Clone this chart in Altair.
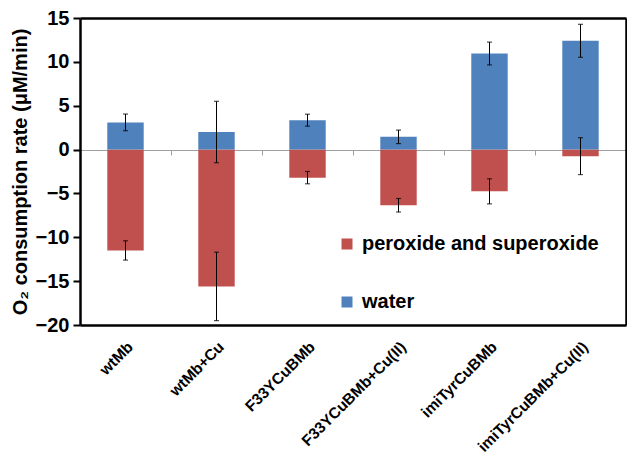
import altair as alt
import pandas as pd

categories = ["wtMb", "wtMb+Cu", "F33YCuBMb", "F33YCuBMb+Cu(II)", "imiTyrCuBMb", "imiTyrCuBMb+Cu(II)"]
water = [3.1, 2.0, 3.35, 1.45, 10.95, 12.4]
water_err = [0.95, 3.5, 0.68, 0.77, 1.3, 1.88]
perox = [-11.5, -15.6, -3.2, -6.35, -4.76, -0.75]
perox_err = [1.1, 3.9, 0.7, 0.77, 1.43, 2.1]
series = ["peroxide and superoxide", "water"]
colors = ["#C0504D", "#4F81BD"]

rows = []
for i, c in enumerate(categories):
    rows.append({"cat": c, "series": series[0], "value": perox[i], "err": perox_err[i]})
    rows.append({"cat": c, "series": series[1], "value": water[i], "err": water_err[i]})
df = pd.DataFrame(rows)
df["lo"] = df["value"] - df["err"]
df["hi"] = df["value"] + df["err"]

FONT = "Liberation Sans"
W, H = 546, 307
FW = 2.5
xscale = alt.Scale(domain=categories, paddingInner=0, paddingOuter=0)
yscale = alt.Scale(domain=[-20, 15], nice=False)

base = alt.Chart(df)

zero_axis = base.mark_rule(opacity=0).encode(
    x=alt.X("cat:N", scale=xscale, sort=categories,
            axis=alt.Axis(title=None, orient="bottom", labels=False, offset=-175,
                          domainColor="#A0A0A0", tickColor="#A0A0A0", tickSize=5,
                          bandPosition=0, domainWidth=1)),
    y=alt.Y("value:Q", scale=yscale, axis=None),
)

bars = base.mark_bar(width=alt.RelativeBandSize(0.4)).encode(
    x=alt.X("cat:N", scale=xscale, sort=categories,
            axis=alt.Axis(title=None, orient="bottom", labelAngle=-45, labelFont=FONT,
                          labelFontWeight="bold", labelFontSize=15.5, labelColor="black",
                          domain=True, domainColor="black", domainWidth=FW, domainOpacity=1,
                          ticks=False, labelPadding=14, labelLimit=0)),
    y=alt.Y("value:Q", scale=yscale,
            axis=alt.Axis(title="O\u2082 consumption rate (\u03bcM/min)", orient="left",
                          titleFont=FONT, titleFontSize=20, titleFontWeight="bold",
                          titleColor="black", titlePadding=5, labelFont=FONT, labelFontSize=20,
                          labelFontWeight="bold", labelColor="black",
                          values=[-20, -15, -10, -5, 0, 5, 10, 15],
                          grid=False, domain=True, domainColor="black", domainWidth=FW,
                          domainOpacity=1,
                          tickColor="black", tickWidth=2, tickSize=7, labelPadding=4)),
    color=alt.Color("series:N", scale=alt.Scale(domain=series, range=colors),
                    legend=alt.Legend(title=None, orient="none", legendX=257, legendY=216,
                                      labelFont=FONT, labelFontSize=20, labelFontWeight="bold",
                                      labelColor="black", symbolType="square", symbolSize=121,
                                      symbolStrokeWidth=0, rowPadding=38, labelOffset=5,
                                      labelLimit=0)),
)

err_rule = base.mark_rule(color="black", strokeWidth=1).encode(
    x=alt.X("cat:N", scale=xscale, sort=categories,
            axis=alt.Axis(title=None, orient="top", labels=False, ticks=False,
                          domainColor="black", domainWidth=FW, domainOpacity=1)),
    y=alt.Y("lo:Q", scale=yscale,
            axis=alt.Axis(title=None, orient="right", labels=False, ticks=False, grid=False,
                          domainColor="black", domainWidth=FW, domainOpacity=1)),
    y2="hi:Q",
)
cap_lo = base.mark_tick(color="black", thickness=1.2, size=5, orient="horizontal").encode(
    x=alt.X("cat:N", scale=xscale, sort=categories, axis=None),
    y=alt.Y("lo:Q", scale=yscale, axis=None),
)
cap_hi = base.mark_tick(color="black", thickness=1.2, size=5, orient="horizontal").encode(
    x=alt.X("cat:N", scale=xscale, sort=categories, axis=None),
    y=alt.Y("hi:Q", scale=yscale, axis=None),
)

chart = alt.layer(zero_axis, bars, err_rule, cap_lo, cap_hi).resolve_axis(
    x="independent", y="independent"
).properties(
    width=W, height=H,
    autosize=alt.AutoSizeParams(type="none"),
    padding={"left": 72, "top": 10, "right": 1, "bottom": 144},
    background="white",
).configure_view(strokeWidth=0)

chart.save("out.html", embed_options={"renderer": "svg", "actions": False})
